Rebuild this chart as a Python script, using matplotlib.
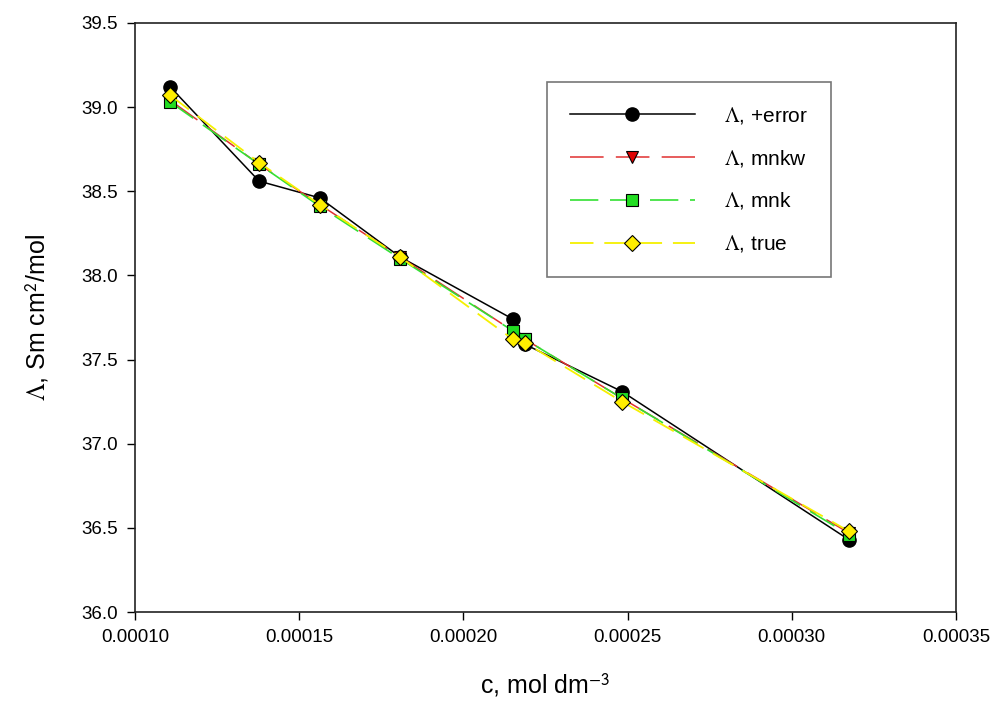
import numpy as np
import matplotlib
matplotlib.use("Agg")
import matplotlib.pyplot as plt

plt.rcParams['font.family'] = ['Liberation Sans', 'DejaVu Sans']
plt.rcParams['mathtext.fontset'] = 'stix'

# data
c = [0.0001107, 0.0001378, 0.0001563, 0.0001807, 0.0002151, 0.0002188, 0.0002483, 0.0003174]
lam_error = [39.12, 38.56, 38.46, 38.11, 37.74, 37.59, 37.31, 36.43]
lam_mnkw = [39.04, 38.66, 38.42, 38.11, 37.67, 37.62, 37.27, 36.47]
lam_mnk = [39.03, 38.66, 38.41, 38.10, 37.67, 37.62, 37.27, 36.46]
lam_true = [39.07, 38.67, 38.42, 38.11, 37.62, 37.60, 37.25, 36.48]
labels = [r'$\Lambda$, +error', r'$\Lambda$, mnkw', r'$\Lambda$, mnk', r'$\Lambda$, true']

fig = plt.figure(figsize=(10.02, 7.15), dpi=100)
ax = fig.add_axes([0.1347, 0.144, 0.8193, 0.824])

ax.plot(c, lam_error, color='black', lw=1.1, marker='o', ms=9.5,
        mfc='black', mec='black', label=labels[0])
ax.plot(c, lam_mnkw, color='#e03030', lw=1.1, ls=(0, (22, 8)), marker='v', ms=9,
        mfc='#e00000', mec='black', mew=0.8, label=labels[1])
ax.plot(c, lam_mnk, color='#33e033', lw=1.2, ls=(0, (17, 7)), marker='s', ms=8,
        mfc='#22dd22', mec='black', mew=0.8, label=labels[2])
ax.plot(c, lam_true, color='#f5f000', lw=1.3, ls=(0, (13, 6)), marker='D', ms=8,
        mfc='#ffee00', mec='black', mew=0.8, label=labels[3])

ax.set_xlim(0.0001, 0.00035)
ax.set_ylim(36.0, 39.5)
ax.set_xticks(np.arange(0.0001, 0.00036, 0.00005))
ax.set_xticklabels(['%.5f' % v for v in np.arange(0.0001, 0.00036, 0.00005)])
ax.set_yticks(np.arange(36.0, 39.51, 0.5))
ax.set_yticklabels(['%.1f' % v for v in np.arange(36.0, 39.51, 0.5)])
ax.tick_params(direction='out', length=6, width=1, labelsize=13.5, pad=6,
               top=False, right=False)
for s in ax.spines.values():
    s.set_linewidth(1.2)
    s.set_color('#222222')

ax.set_xlabel(r'c, mol dm$^{\mathsf{-3}}$', fontsize=18, labelpad=18)
ax.set_ylabel(r'$\Lambda$, Sm cm$^{\mathsf{2}}$/mol', fontsize=18, labelpad=22)

leg = ax.legend(loc='upper left', bbox_to_anchor=(0.502, 0.90), fontsize=15,
                handlelength=6.0, handletextpad=1.4, labelspacing=1.05,
                borderpad=1.1, fancybox=False, framealpha=1, borderaxespad=0)
leg.get_frame().set_edgecolor('#777777')
leg.get_frame().set_linewidth(1.2)

plt.savefig('out.png', dpi=100)
